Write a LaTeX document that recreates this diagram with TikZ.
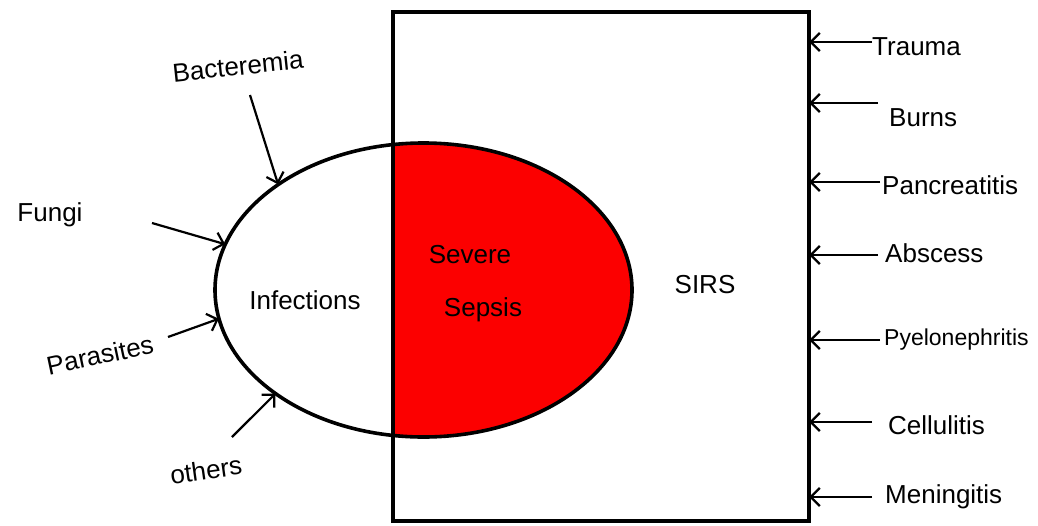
\documentclass[tikz,border=0pt]{standalone}
\usepackage{fontspec}
\setmainfont{Liberation Sans}
\usetikzlibrary{arrows.meta,positioning,shapes.geometric}
\definecolor{SepsisRed}{RGB}{252,0,0}

\tikzset{
  hand/.style={font=\fontsize{26}{28}\selectfont, inner sep=0pt},
  cause/.style={-{Straight Barb[length=9pt,width=18pt]}, line width=2.2pt},
}

\begin{document}
\begin{tikzpicture}[x=1pt,y=-1pt]
      \useasboundingbox (0,0) rectangle (1038,525);
      % SIRS box and infection ellipse
      \node[minimum width=416, minimum height=509, inner sep=0pt] (sirs) at (601,266.5) {};
      \node[ellipse, minimum width=417, minimum height=294, inner sep=0pt] (inf) at (423.5,290) {};
      \begin{scope}
        \clip (sirs.north west) rectangle (sirs.south east);
        \fill[SepsisRed] (inf.center) ellipse [x radius=208.5, y radius=147];
      \end{scope}
      \draw[line width=3.6pt] (inf.center) ellipse [x radius=208.5, y radius=147];
      \draw[line width=3.6pt] (sirs.north west) rectangle (sirs.south east);

      \node[hand] (infections) at (305,300) {Infections};
      \node[hand] (severe) at (470,255) {Severe};
      \node[hand] (sepsis) at (483,310) {Sepsis};
      \node[hand] (sirslabel) at (705,285) {SIRS};

      % infections
      \node[hand, rotate=6] (bact) at (238,66) {Bacteremia};
      \node[hand] (fungi) at (50,215) {Fungi};
      \node[hand, rotate=12] (para) at (100,355) {Parasites};
      \node[hand, rotate=8] (others) at (206,470) {others};
      \coordinate (bactT) at (250,95);
      \coordinate (fungiT) at (152,223);
      \coordinate (paraT) at (168,337);
      \coordinate (othersT) at (232,437);
      \draw[cause] (bactT) -- (inf.144);
      \draw[cause] (fungiT) -- (inf.167);
      \draw[cause] (paraT) -- (inf.188);
      \draw[cause] (othersT) -- (inf.215);

      % non-infectious causes of SIRS
      \node[hand, anchor=west] (trauma) at (872,47) {Trauma};
      \node[hand, anchor=west] (burns) at (889,118) {Burns};
      \node[hand, anchor=west] (panc) at (882,185) {Pancreatitis};
      \node[hand, anchor=west] (absc) at (885,253) {Abscess};
      \node[hand, anchor=west, font=\fontsize{23}{25}\selectfont] (pyelo) at (884,340) {Pyelonephritis};
      \node[hand, anchor=west] (cell) at (888,425) {Cellulitis};
      \node[hand, anchor=west] (mening) at (885,497) {Meningitis};
      \coordinate (traumaT) at (872,42);
      \coordinate (burnsT) at (878,103);
      \coordinate (pancT) at (880,182);
      \coordinate (abscT) at (878,255);
      \coordinate (pyeloT) at (880,340);
      \coordinate (cellT) at (872,422);
      \coordinate (meningT) at (872,497);
      \draw[cause] (traumaT) -- (traumaT -| sirs.east);
      \draw[cause] (burnsT) -- (burnsT -| sirs.east);
      \draw[cause] (pancT) -- (pancT -| sirs.east);
      \draw[cause] (abscT) -- (abscT -| sirs.east);
      \draw[cause] (pyeloT) -- (pyeloT -| sirs.east);
      \draw[cause] (cellT) -- (cellT -| sirs.east);
      \draw[cause] (meningT) -- (meningT -| sirs.east);
\end{tikzpicture}
\end{document}
